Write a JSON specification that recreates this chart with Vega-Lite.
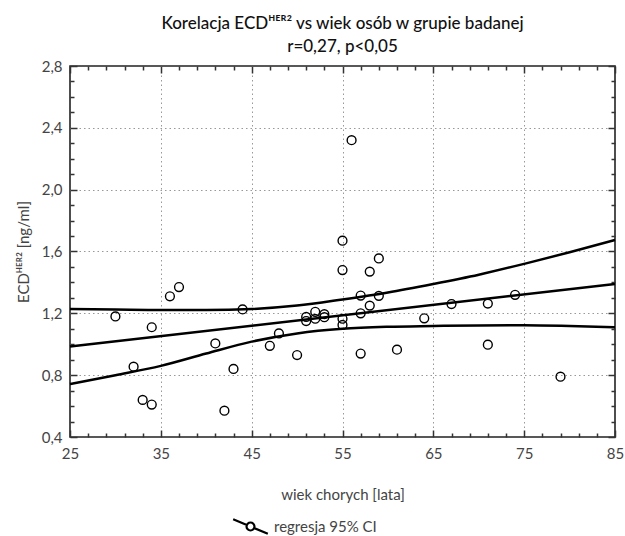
{
 "$schema": "https://vega.github.io/schema/vega-lite/v6.json",
 "width": 545,
 "height": 371,
 "autosize": {"type": "none"},
 "padding": {"left": 70, "top": 66, "right": 10, "bottom": 99},
 "background": "white",
 "config": {"font": "Lato", "view": {"stroke": "#222", "strokeWidth": 1.6}},
 "title": {"text": ["Korelacja ECDᴴᴱᴿ² vs wiek osób w grupie badanej", "r=0,27, p<0,05"], "fontSize": 17, "fontWeight": 500, "color": "#111", "anchor": "middle", "offset": 3, "lineHeight": 23},
 "datasets": {
  "pts": [
   {"age": 30, "ecd": 1.18}, {"age": 32, "ecd": 0.855}, {"age": 33, "ecd": 0.64}, {"age": 34, "ecd": 1.11},
   {"age": 34, "ecd": 0.61}, {"age": 36, "ecd": 1.31}, {"age": 37, "ecd": 1.37}, {"age": 41, "ecd": 1.005},
   {"age": 42, "ecd": 0.57}, {"age": 43, "ecd": 0.84}, {"age": 44, "ecd": 1.225}, {"age": 47, "ecd": 0.99},
   {"age": 48, "ecd": 1.07}, {"age": 50, "ecd": 0.93}, {"age": 51, "ecd": 1.177}, {"age": 51, "ecd": 1.15},
   {"age": 52, "ecd": 1.21}, {"age": 52, "ecd": 1.165}, {"age": 53, "ecd": 1.195}, {"age": 53, "ecd": 1.175},
   {"age": 55, "ecd": 1.67}, {"age": 55, "ecd": 1.48}, {"age": 55, "ecd": 1.165}, {"age": 55, "ecd": 1.125},
   {"age": 56, "ecd": 2.32}, {"age": 57, "ecd": 1.315}, {"age": 57, "ecd": 1.2}, {"age": 57, "ecd": 0.94},
   {"age": 58, "ecd": 1.47}, {"age": 58, "ecd": 1.25}, {"age": 59, "ecd": 1.555}, {"age": 59, "ecd": 1.313},
   {"age": 61, "ecd": 0.965}, {"age": 64, "ecd": 1.168}, {"age": 67, "ecd": 1.26}, {"age": 71, "ecd": 1.263},
   {"age": 71, "ecd": 0.997}, {"age": 74, "ecd": 1.32}, {"age": 79, "ecd": 0.79}
  ],
  "fit": [
   {"series": "fit", "age": 25, "val": 0.985}, {"series": "fit", "age": 85, "val": 1.39},
   {"series": "upper", "age": 25, "val": 1.228}, {"series": "upper", "age": 30, "val": 1.225},
   {"series": "upper", "age": 35, "val": 1.222}, {"series": "upper", "age": 40, "val": 1.222},
   {"series": "upper", "age": 45, "val": 1.228}, {"series": "upper", "age": 50, "val": 1.25},
   {"series": "upper", "age": 55, "val": 1.29}, {"series": "upper", "age": 60, "val": 1.335},
   {"series": "upper", "age": 65, "val": 1.39}, {"series": "upper", "age": 70, "val": 1.45},
   {"series": "upper", "age": 75, "val": 1.52}, {"series": "upper", "age": 80, "val": 1.595},
   {"series": "upper", "age": 85, "val": 1.675},
   {"series": "lower", "age": 25, "val": 0.743}, {"series": "lower", "age": 30, "val": 0.8},
   {"series": "lower", "age": 35, "val": 0.86}, {"series": "lower", "age": 40, "val": 0.94},
   {"series": "lower", "age": 45, "val": 1.017}, {"series": "lower", "age": 50, "val": 1.07},
   {"series": "lower", "age": 55, "val": 1.1}, {"series": "lower", "age": 60, "val": 1.113},
   {"series": "lower", "age": 65, "val": 1.118}, {"series": "lower", "age": 70, "val": 1.122},
   {"series": "lower", "age": 75, "val": 1.123}, {"series": "lower", "age": 80, "val": 1.118},
   {"series": "lower", "age": 85, "val": 1.11}
  ]
 },
 "layer": [
  {
   "data": {"name": "pts"},
   "mark": {"type": "point", "shape": "circle", "filled": false, "stroke": "black", "strokeWidth": 1.4, "size": 78, "opacity": 1},
   "encoding": {
    "x": {"field": "age", "type": "quantitative", "scale": {"domain": [25, 85], "nice": false, "zero": false},
     "axis": {"orient": "bottom", "values": [25,27,29,31,33,35,37,39,41,43,45,47,49,51,53,55,57,59,61,63,65,67,69,71,73,75,77,79,81,83,85],
      "title": "wiek chorych [lata]", "titleFontSize": 15, "titleFontWeight": "normal", "titleColor": "#444", "titlePadding": 23,
      "labelExpr": "datum.value % 10 == 5 ? datum.label : ''", "labelFontSize": 15, "labelColor": "#444", "labelPadding": 16,
      "labelFlush": false, "labelOverlap": false, "domain": false,
      "grid": true, "gridColor": "#999", "gridDash": [1.5, 3], "gridWidth": 1,
      "gridOpacity": {"condition": {"test": "datum.value % 10 == 5 && datum.value > 25 && datum.value < 85", "value": 1}, "value": 0},
      "tickColor": "#333", "tickWidth": 1.5,
      "tickSize": {"condition": {"test": "datum.value % 10 == 5", "value": -7}, "value": -4}}},
    "y": {"field": "ecd", "type": "quantitative", "scale": {"domain": [0.4, 2.8], "nice": false, "zero": false},
     "axis": {"orient": "left", "values": [0.4,0.5,0.6,0.7,0.8,0.9,1.0,1.1,1.2,1.3,1.4,1.5,1.6,1.7,1.8,1.9,2.0,2.1,2.2,2.3,2.4,2.5,2.6,2.7,2.8],
      "title": "ECDᴴᴱᴿ² [ng/ml]", "titleFontSize": 15, "titleFontWeight": "normal", "titleColor": "#444", "titlePadding": 10,
      "labelExpr": "round(datum.value*10) % 4 == 0 ? replace(format(datum.value, '.1f'), '.', ',') : ''",
      "labelFontSize": 15, "labelColor": "#444", "labelPadding": 15, "labelFlush": false, "labelOverlap": false, "domain": false,
      "grid": true, "gridColor": "#999", "gridDash": [1.5, 3], "gridWidth": 1,
      "gridOpacity": {"condition": {"test": "round(datum.value*10) % 4 == 0 && datum.value > 0.5 && datum.value < 2.7", "value": 1}, "value": 0},
      "tickColor": "#333", "tickWidth": 1.5,
      "tickSize": {"condition": {"test": "round(datum.value*10) % 4 == 0", "value": -7}, "value": -4}}}
   }
  },
  {
   "data": {"name": "fit"},
   "mark": {"type": "line", "interpolate": "monotone", "strokeWidth": 2.5},
   "encoding": {
    "x": {"field": "age", "type": "quantitative",
     "axis": {"orient": "top", "values": [25,27,29,31,33,35,37,39,41,43,45,47,49,51,53,55,57,59,61,63,65,67,69,71,73,75,77,79,81,83,85],
      "labels": false, "title": null, "domain": false, "grid": false, "tickColor": "#333", "tickWidth": 1.5,
      "tickSize": {"condition": {"test": "datum.value % 10 == 5", "value": -7}, "value": -4}}},
    "y": {"field": "val", "type": "quantitative",
     "axis": {"orient": "right", "values": [0.4,0.5,0.6,0.7,0.8,0.9,1.0,1.1,1.2,1.3,1.4,1.5,1.6,1.7,1.8,1.9,2.0,2.1,2.2,2.3,2.4,2.5,2.6,2.7,2.8],
      "labels": false, "title": null, "domain": false, "grid": false, "tickColor": "#333", "tickWidth": 1.5,
      "tickSize": {"condition": {"test": "round(datum.value*10) % 4 == 0", "value": -7}, "value": -4}}},
    "detail": {"field": "series", "type": "nominal"},
    "stroke": {"datum": "regresja 95% CI", "type": "nominal", "scale": {"range": ["black"]},
     "legend": {"title": null, "orient": "none", "legendX": 162, "legendY": 442,
      "symbolType": "M-1,-0.42L-0.21,-0.09M0.21,0.09L1,0.42M-0.23,0A0.23,0.23,0,1,1,0.23,0A0.23,0.23,0,1,1,-0.23,0Z",
      "symbolSize": 1200, "symbolStrokeWidth": 2.2, "symbolStrokeColor": "black", "symbolFillColor": "white",
      "labelFontSize": 15, "labelColor": "#444", "labelFont": "Lato", "labelOffset": 5}}
   }
  },
  {
   "mark": {"type": "text", "fontSize": 31, "font": "Lato", "align": "center", "baseline": "alphabetic", "color": "black"},
   "encoding": {
    "x": {"datum": 28.3, "type": "quantitative", "axis": null},
    "y": {"datum": 2.55, "type": "quantitative", "axis": null},
    "text": {"value": "A"}
   }
  }
 ],
 "resolve": {"axis": {"x": "independent", "y": "independent"}}
}
